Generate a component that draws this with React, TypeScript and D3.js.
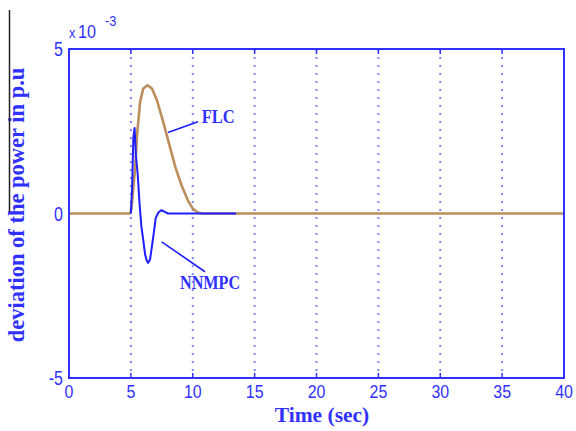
import React from "react";
import * as d3 from "d3";

// Time axis (seconds) and tick values
const xTicks = [0, 5, 10, 15, 20, 25, 30, 35, 40];
const yTicks = [-5, 0, 5];

// FLC response (deviation, units of 1e-3 p.u)
const flcTime = [0, 4.9, 5.0, 5.1, 5.2, 5.35, 5.5, 5.75, 6.0, 6.35, 6.7, 7.1, 7.6, 8.1, 8.6, 9.1, 9.6, 10.0, 10.4, 10.8, 40];
const flcValue = [0, 0, 0.05, 0.35, 0.8, 1.4, 2.4, 3.4, 3.8, 3.9, 3.8, 3.45, 2.8, 2.1, 1.4, 0.85, 0.4, 0.15, 0.03, 0, 0];

// NNMPC response (deviation, units of 1e-3 p.u)
const nnTime = [5.0, 5.1, 5.2, 5.3, 5.4, 5.55, 5.7, 5.85, 6.0, 6.15, 6.3, 6.4, 6.55, 6.7, 6.85, 7.0, 7.2, 7.45, 7.7, 8.0, 8.5, 13.5];
const nnValue = [0, 0.8, 2.3, 2.6, 1.8, 1.2, 0.3, -0.4, -0.8, -1.25, -1.45, -1.5, -1.4, -1.0, -0.6, -0.15, 0.02, 0.1, 0.06, 0, 0, 0];

const W = 576;
const H = 431;
const left = 69;
const right = 564;
const top = 49;
const bottom = 378;

const BLUE = "#3030ff";
const TAN = "#bd8e5c";
const LINE_BLUE = "#1e1eff";

export default function App() {
  const x = d3.scaleLinear().domain([0, 40]).range([left, right]);
  const y = d3.scaleLinear().domain([-5, 5]).range([bottom, top]);

  const line = d3
    .line<[number, number]>()
    .x((d) => x(d[0]))
    .y((d) => y(d[1]));

  const flc = line(flcTime.map((t, i) => [t, flcValue[i]]) as [number, number][]) || "";
  const nn = line(nnTime.map((t, i) => [t, nnValue[i]]) as [number, number][]) || "";

  const labelFont = "'Liberation Serif', 'Times New Roman', serif";
  const tickFont = "'Liberation Sans', Arial, sans-serif";

  return (
    <svg
      width={W}
      height={H}
      style={{ position: "absolute", left: 0, top: 0, background: "#fff" }}
    >
      <rect x={0} y={0} width={W} height={H} fill="#fff" />

      {/* vertical dotted grid */}
      {xTicks.slice(1, -1).map((t) => (
        <g key={"g" + t}>
          <line
            x1={x(t)}
            x2={x(t)}
            y1={top}
            y2={bottom}
            stroke="#5a5aff"
            strokeOpacity={0.75}
            strokeWidth={2}
            strokeDasharray="2,6"
          />
          <line x1={x(t)} x2={x(t)} y1={top} y2={top + 5} stroke={BLUE} strokeWidth={1.5} />
          <line x1={x(t)} x2={x(t)} y1={bottom} y2={bottom - 5} stroke={BLUE} strokeWidth={1.5} />
        </g>
      ))}

      {/* curves */}
      <path d={flc} fill="none" stroke={TAN} strokeWidth={2.6} strokeLinejoin="round" />
      <path d={nn} fill="none" stroke={LINE_BLUE} strokeWidth={2} strokeLinejoin="round" />

      {/* frame */}
      <rect
        x={left}
        y={top}
        width={right - left}
        height={bottom - top}
        fill="none"
        stroke={BLUE}
        strokeWidth={2}
      />

      {/* x tick labels */}
      {xTicks.map((t) => (
        <text
          key={"x" + t}
          transform={`translate(${x(t)},${bottom + 20}) scale(0.84,1)`}
          textAnchor="middle"
          fontFamily={tickFont}
          fontSize={19}
          fill={BLUE}
        >
          {t}
        </text>
      ))}

      {/* y tick labels */}
      {yTicks.map((v) => (
        <text
          key={"y" + v}
          transform={`translate(${left - 6},${y(v) + 7}) scale(0.8,1)`}
          textAnchor="end"
          fontFamily={tickFont}
          fontSize={20}
          fill={BLUE}
        >
          {v}
        </text>
      ))}

      {/* exponent */}
      <text transform={`translate(${left},38) scale(0.85,1)`} fontFamily={tickFont} fill={BLUE}>
        <tspan fontSize={15}>x</tspan>
        <tspan dx={3} fontSize={19}>10</tspan>
      </text>
      <text transform={`translate(${left + 36},26) scale(0.85,1)`} fontFamily={tickFont} fontSize={15} fill={BLUE}>
        -3
      </text>

      {/* annotations */}
      <line x1={x(8.0)} y1={y(2.46)} x2={x(10.42)} y2={y(2.79)} stroke={LINE_BLUE} strokeWidth={1.6} />
      <text
        transform={`translate(${x(10.72)},${y(2.75)}) scale(0.87,1)`}
        fontFamily={labelFont}
        fontWeight="bold"
        fontSize={19}
        fill={BLUE}
      >
        FLC
      </text>
      <line x1={x(7.49)} y1={y(-0.86)} x2={x(10.99)} y2={y(-1.77)} stroke={LINE_BLUE} strokeWidth={1.6} />
      <text
        transform={`translate(${x(8.97)},${y(-2.3)}) scale(0.85,1)`}
        fontFamily={labelFont}
        fontWeight="bold"
        fontSize={19}
        fill={BLUE}
      >
        NNMPC
      </text>

      {/* axis titles */}
      <text
        x={322}
        y={422}
        textAnchor="middle"
        fontFamily={labelFont}
        fontWeight="bold"
        fontSize={21.5}
        fill={BLUE}
      >
        Time (sec)
      </text>
      <text
        transform="translate(24,205) rotate(-90)"
        textAnchor="middle"
        fontFamily={labelFont}
        fontWeight="bold"
        fontSize={22.5}
        fill={BLUE}
      >
        deviation of the power in p.u
      </text>

      {/* left border line */}
      <line x1={9.5} x2={9.5} y1={10} y2={212} stroke="#222" strokeWidth={1.5} />
    </svg>
  );
}
